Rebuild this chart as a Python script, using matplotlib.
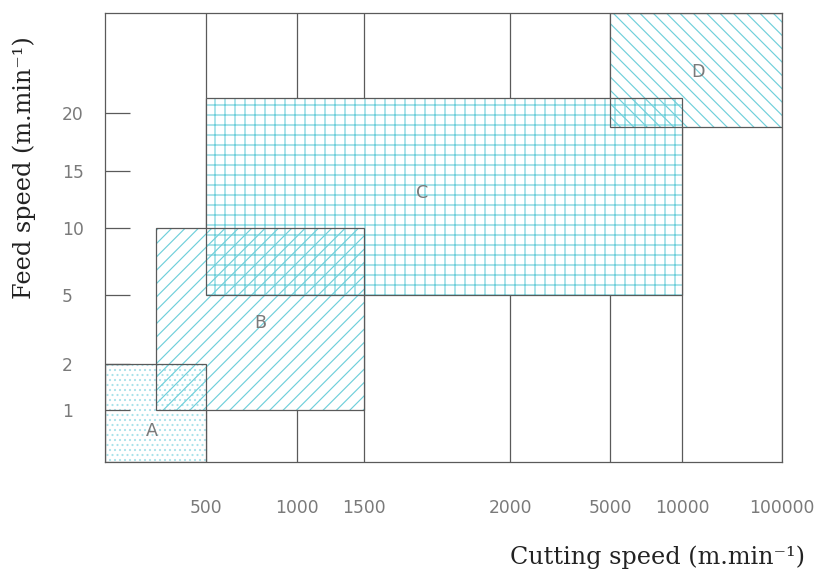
import numpy as np
import matplotlib
matplotlib.use("Agg")
import matplotlib.pyplot as plt
from matplotlib.patches import Rectangle

# zones of the chart: (label, x0, x1, y0, y1, hatch)
zone_names = ["A", "B", "C", "D"]
zone_x0 = [0, 250, 500, 5000]
zone_x1 = [500, 1500, 10000, 100000]
zone_y0 = [0, 1, 5, 18.8]
zone_y1 = [2, 10, 21.5, 30]
zone_hatch = ["....", "///", "++", "\\\\\\"]
# where the letters sit
label_x = [230, 800, 1700, 24000]
label_y = [0.6, 3.8, 13.1, 24.1]

x_ticks = [500, 1000, 1500, 2000, 5000, 10000, 100000]
x_ticklabels = ["500", "1000", "1500", "2000", "5000", "10000", "100000"]
y_ticks = [1, 2, 5, 10, 15, 20]
y_ticklabels = ["1", "2", "5", "10", "15", "20"]

# the axes are not linear or log, just stretched by hand in the original
x_anchor = [0, 500, 1000, 1500, 2000, 5000, 10000, 100000]
x_anchor_pos = [0, 101, 192, 259, 405, 505, 577, 677]
y_anchor = [0, 1, 2, 5, 10, 15, 20, 30]
y_anchor_pos = [0, 52, 98, 167, 234, 291, 349, 449]

def xfwd(v):
    return np.interp(v, x_anchor, x_anchor_pos)

def xinv(p):
    return np.interp(p, x_anchor_pos, x_anchor)

def yfwd(v):
    return np.interp(v, y_anchor, y_anchor_pos)

def yinv(p):
    return np.interp(p, y_anchor_pos, y_anchor)

line_col = "#5a5a5a"
hatch_cols = ["#a9e2ea", "#6fcfda", "#6fcfda", "#6fcfda"]
text_col = "#7a7a7a"
plt.rcParams["hatch.linewidth"] = 0.7

# dpi 120 so the hatch spacing comes out close to the original
fig = plt.figure(figsize=(819 / 120, 573 / 120), dpi=120)
ax = fig.add_axes([105 / 819, 1 - 462 / 573, 677 / 819, 449 / 573])
ax.set_xscale("function", functions=(xfwd, xinv))
ax.set_yscale("function", functions=(yfwd, yinv))
ax.set_xlim(0, 100000)
ax.set_ylim(0, 30)

for xv in x_ticks:
    ax.axvline(xv, color=line_col, lw=0.75, zorder=0.5)

for i in range(len(zone_names)):
    w = zone_x1[i] - zone_x0[i]
    h = zone_y1[i] - zone_y0[i]
    ax.add_patch(Rectangle((zone_x0[i], zone_y0[i]), w, h, facecolor="white",
                           edgecolor="none", zorder=1))
for i in range(len(zone_names)):
    w = zone_x1[i] - zone_x0[i]
    h = zone_y1[i] - zone_y0[i]
    ax.add_patch(Rectangle((zone_x0[i], zone_y0[i]), w, h, facecolor="none",
                           edgecolor=hatch_cols[i], lw=0, hatch=zone_hatch[i], zorder=1.1))
for i in range(len(zone_names)):
    w = zone_x1[i] - zone_x0[i]
    h = zone_y1[i] - zone_y0[i]
    ax.add_patch(Rectangle((zone_x0[i], zone_y0[i]), w, h, facecolor="none",
                           edgecolor=line_col, lw=0.75, zorder=1.2))
    ax.text(label_x[i], label_y[i], zone_names[i], color=text_col, fontsize=10.5,
            ha="center", va="center", zorder=3)

ax.set_xticks(x_ticks)
ax.set_xticklabels(x_ticklabels)
ax.set_yticks(y_ticks)
ax.set_yticklabels(y_ticklabels)
ax.minorticks_off()
ax.tick_params(axis="x", length=0, pad=22, labelsize=10.3, labelcolor=text_col)
ax.tick_params(axis="y", direction="in", length=15, width=0.75, color=line_col,
               pad=26, labelsize=10.3, labelcolor=text_col)
for lab in ax.get_yticklabels():
    lab.set_ha("left")

for s in ax.spines.values():
    s.set_color(line_col)
    s.set_linewidth(0.75)

serif = ["DejaVu Serif"]
fig.text(24 / 819, 1 - 168 / 573, "Feed speed (m.min\u207b\u00b9)", rotation=90,
         ha="center", va="center", fontsize=14.3, family=serif, color="#222222")
fig.text(805 / 819, 1 - 557 / 573, "Cutting speed (m.min\u207b\u00b9)",
         ha="right", va="center", fontsize=14.3, family=serif, color="#222222")

fig.savefig("out.png", dpi=120)
